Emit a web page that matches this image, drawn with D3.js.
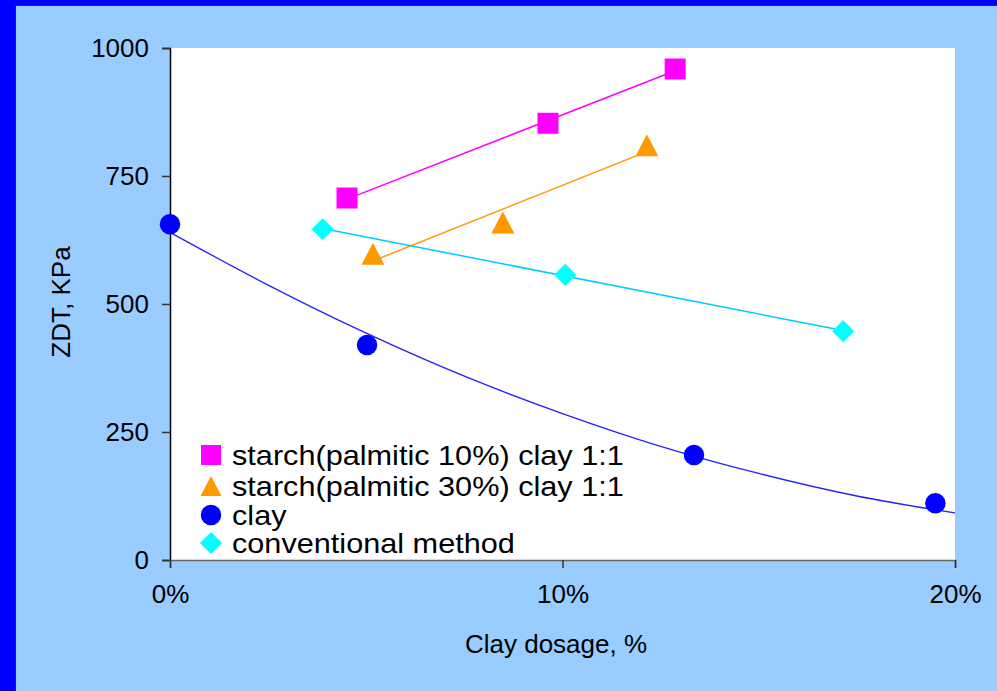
<!DOCTYPE html>
<html><head><meta charset="utf-8">
<script src="https://cdn.jsdelivr.net/npm/d3@7"></script>
<style>
html,body{margin:0;padding:0;background:#99CCFF;}
svg{display:block;font-family:"Liberation Sans",Arial,sans-serif;}
</style></head>
<body>
<svg id="c" width="997" height="691"></svg>
<script>
// ---- data (x = clay dosage %, y = ZDT KPa) ----
const seriesNames = ["starch(palmitic 10%) clay 1:1","starch(palmitic 30%) clay 1:1","clay","conventional method"];
const starch10X = [4.51, 9.63, 12.87];
const starch10Y = [707, 853, 959];
const starch30X = [5.17, 8.48, 12.15];
const starch30Y = [598, 659, 810];
const clayX = [0, 5.02, 13.35, 19.5];
const clayY = [656, 420, 205, 111];
const convX = [3.89, 10.07, 17.15];
const convY = [646, 557, 447];
// clay trend curve
const clayTrendX = [0, 2.5, 5, 7.5, 10, 12.5, 15, 17.5, 20];
const clayTrendY = [640, 537, 443, 359, 286, 222, 169, 125, 92];
const yTicks = [0, 250, 500, 750, 1000];
const xTicks = [0, 10, 20];
const xTickLabels = ["0%","10%","20%"];

const svg = d3.select("#c");
// frame
svg.append("rect").attr("x",0).attr("y",0).attr("width",997).attr("height",691).attr("fill","#0000FF");
svg.append("rect").attr("x",15).attr("y",5).attr("width",982).attr("height",686).attr("fill","#1a2a4a");
svg.append("rect").attr("x",16).attr("y",6).attr("width",981).attr("height",685).attr("fill","#99CCFF");

const L=170,R=955,T=48,B=560;
const x = d3.scaleLinear().domain([0,20]).range([L,R]);
const y = d3.scaleLinear().domain([0,1000]).range([B,T]);

svg.append("rect").attr("x",L).attr("y",T).attr("width",R-L).attr("height",B-T).attr("fill","#fff");

// axes
const yAx = svg.append("g").attr("transform",`translate(${L},0)`)
  .call(d3.axisLeft(y).tickValues(yTicks).tickSize(8).tickPadding(13).tickFormat(d3.format("d")));
yAx.select(".domain").attr("stroke","#000").attr("stroke-width",1.5);
yAx.selectAll(".tick line").attr("stroke","#333").attr("stroke-width",1.5);
yAx.selectAll("text").attr("font-size",26).attr("fill","#000").attr("font-family","Liberation Sans, Arial");

const xAx = svg.append("g").attr("transform",`translate(0,${B})`)
  .call(d3.axisBottom(x).tickValues(xTicks).tickSize(8).tickPadding(17).tickFormat((d,i)=>xTickLabels[i]));
xAx.select(".domain").attr("stroke","#666").attr("stroke-width",1.5);
xAx.selectAll(".tick line").attr("stroke","#333").attr("stroke-width",1.5);
xAx.selectAll("text").attr("font-size",26).attr("fill","#000").attr("font-family","Liberation Sans, Arial");

// titles
svg.append("text").attr("x",556).attr("y",653).attr("text-anchor","middle")
  .attr("font-size",26).text("Clay dosage, %");
svg.append("text").attr("transform","translate(70,302) rotate(-90)").attr("text-anchor","middle")
  .attr("font-size",26).text("ZDT, KPa");

// linear trendlines (least squares)
function linFit(xs,ys){
  const mx=d3.mean(xs),my=d3.mean(ys);
  let sxy=0,sxx=0; xs.forEach((v,i)=>{sxy+=(v-mx)*(ys[i]-my);sxx+=(v-mx)*(v-mx);});
  const b=sxy/sxx; return v=>my+b*(v-mx);
}
const line = d3.line().x(d=>x(d[0])).y(d=>y(d[1]));
function drawLin(xs,ys,color){
  const f=linFit(xs,ys); const x0=d3.min(xs),x1=d3.max(xs);
  svg.append("path").attr("d",line([[x0,f(x0)],[x1,f(x1)]])).attr("stroke",color).attr("stroke-width",1.5).attr("fill","none");
}
drawLin(starch10X,starch10Y,"#FF00FF");
drawLin(starch30X,starch30Y,"#FF9900");
drawLin(convX,convY,"#00CCFF");
svg.append("path").attr("d",line.curve(d3.curveCatmullRom)(clayTrendX.map((v,i)=>[v,clayTrendY[i]])))
  .attr("stroke","#2222FF").attr("stroke-width",1.3).attr("fill","none");
line.curve(d3.curveLinear);

// markers
const triPath = "M0,-11L11.5,11L-11.5,11Z";
const sqSym = d3.symbol().type(d3.symbolSquare).size(441);
const circSym = d3.symbol().type(d3.symbolCircle).size(330);
const diaSym = d3.symbol().type(d3.symbolSquare).size(245);
function markers(xs,ys,s,color,rot){
  svg.append("g").selectAll("path").data(xs.map((v,i)=>[v,ys[i]])).join("path")
    .attr("transform",d=>`translate(${x(d[0])},${y(d[1])})`+(rot?` rotate(${rot})`:""))
    .attr("d",s).attr("fill",color);
}
markers(starch10X,starch10Y,sqSym,"#FF00FF");
markers(starch30X,starch30Y,triPath,"#FF9900");
markers(clayX,clayY,circSym,"#0000FF");
markers(convX,convY,diaSym,"#00FFFF",45);

// legend
const legSym=[d3.symbol().type(d3.symbolSquare).size(400)(), "M0,-10L10.5,10L-10.5,10Z", circSym(), diaSym()];
const legRot=[0,0,0,45];
const legCol=["#FF00FF","#FF9900","#0000FF","#00FFFF"];
const legY=[455,486,515,543];
const legTexts=[];
seriesNames.forEach((nm,i)=>{
  svg.append("path").attr("transform",`translate(211,${legY[i]}) rotate(${legRot[i]})`).attr("d",legSym[i]).attr("fill",legCol[i]);
  legTexts.push(svg.append("text").attr("x",0).attr("y",0).attr("font-size",27).text(nm));
});
const k = 392/legTexts[0].node().getComputedTextLength();
legTexts.forEach((t,i)=>t.attr("transform",`translate(232,${legY[i]+9.5}) scale(${k},1)`));
</script>
</body></html>
